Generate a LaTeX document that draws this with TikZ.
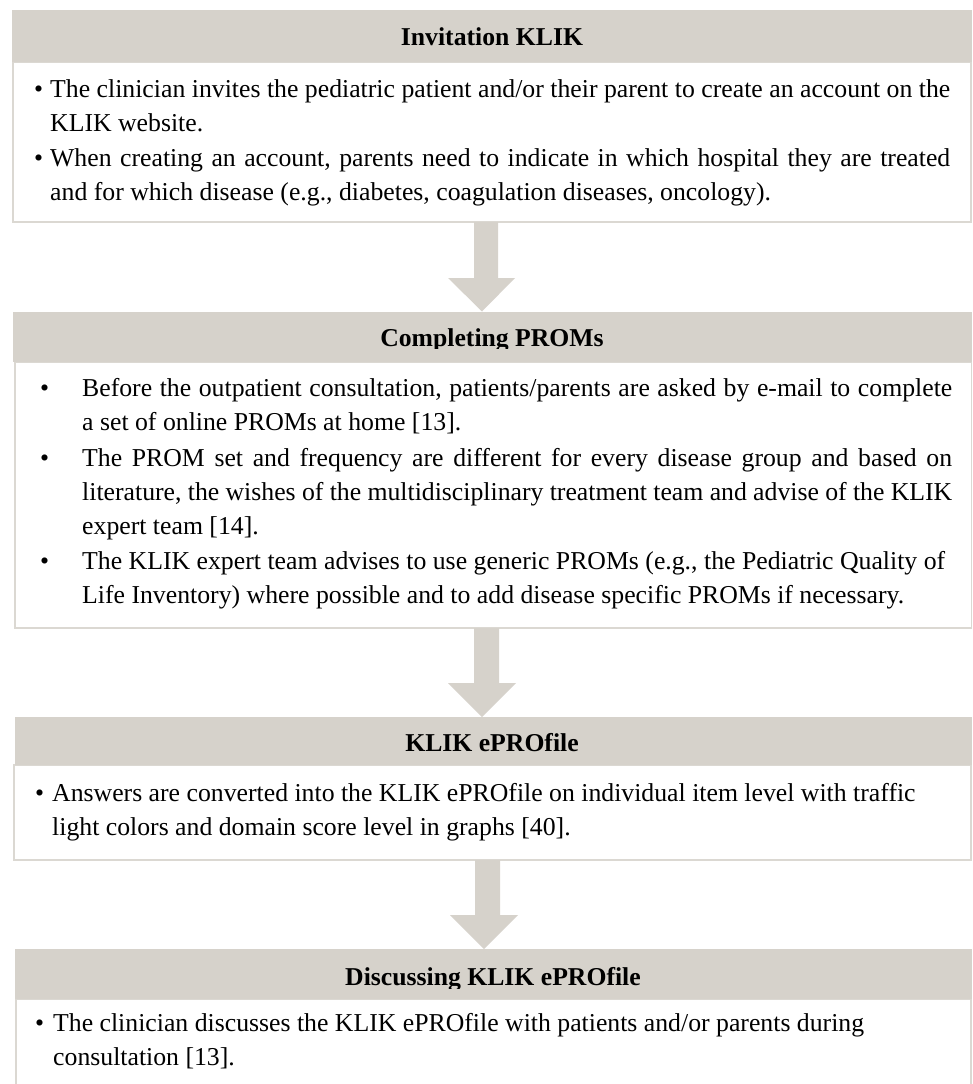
\documentclass[tikz,border=0pt]{standalone}
\usepackage{fontspec}
\setmainfont{Liberation Serif}
\usetikzlibrary{calc}
\definecolor{tanc}{RGB}{214,210,203}
\definecolor{bordc}{RGB}{219,216,210}
\tikzset{
  headbox/.style={rectangle, fill=tanc, draw=none, inner sep=0pt, outer sep=0pt, anchor=north west},
  bodybox/.style={rectangle, fill=white, draw=bordc, line width=1.8pt, inner sep=0pt, outer sep=0pt, anchor=north west},
  headtext/.style={inner sep=0pt, anchor=base, font=\fontsize{25.7}{34}\selectfont\bfseries},
  bodytext/.style={inner sep=0pt, anchor=base west, font=\fontsize{25.75}{34}\selectfont},
  arrowc/.style={fill=tanc, draw=none}
}
\newcommand{\bodysetup}{\hyphenpenalty=10000 \exhyphenpenalty=10000 \tolerance=10000 \emergencystretch=0pt \parskip=1.5pt \parindent=0pt \frenchspacing \spaceskip=0.25em plus 0.2em minus 0.09em \xspaceskip=\spaceskip }
\newcommand{\bul}[1]{\hangindent=#1 \hangafter=1 \noindent\makebox[#1][l]{•}}
\newcommand{\jline}[2]{\makebox[#1][s]{#2}\newline}
\begin{document}
\begin{tikzpicture}[x=1pt,y=-1pt]
\useasboundingbox (0,0) rectangle (972,1084);
\clip (0,0) rectangle (972,1084);
% boxes
\node[bodybox, minimum width=958pt, minimum height=160pt] (b1) at (13,62) {};
\node[headbox, minimum width=960pt, minimum height=52pt] (h1) at (12,10) {};
\node[bodybox, minimum width=956.5pt, minimum height=266.3pt] (b2) at (15,361.7) {};
\node[headbox, minimum width=959pt, minimum height=50.2pt] (h2) at (13,311.5) {};
\node[bodybox, minimum width=957pt, minimum height=95pt] (b3) at (14,765) {};
\node[headbox, minimum width=957pt, minimum height=48pt] (h3) at (15,717) {};
\node[bodybox, minimum width=955pt, minimum height=110pt] (b4) at (16,999) {};
\node[headbox, minimum width=957pt, minimum height=50pt] (h4) at (15,949) {};
% header texts
\node[headtext] (t1) at (492,45.7) {Invitation KLIK};
\begin{scope}
\clip (13,311.5) rectangle (972,348.5);
\node[headtext] (t2) at (492,346.7) {Completing PROMs};
\end{scope}
\node[headtext] (t3) at (492,751.7) {KLIK ePROfile};
\begin{scope}
\clip (15,949) rectangle (972,988);
\node[headtext] (t4) at (493,985) {Discussing KLIK ePROfile};
\end{scope}
% body texts
\node[bodytext, text width=930pt] (x1) at (34,97) {\bodysetup\raggedright
\bul{16pt}\jline{900pt}{The clinician invites the pediatric patient and/or their parent to create an account on the}KLIK website.\par
\bul{16pt}\jline{900pt}{When creating an account, parents need to indicate in which hospital they are treated}and for which disease (e.g., diabetes, coagulation diseases, oncology).\par};
\node[bodytext, text width=925pt] (x2) at (40,396.7) {\bodysetup\raggedright
\bul{42pt}\jline{870pt}{Before the outpatient consultation, patients/parents are asked by e-mail to complete}a set of online PROMs at home [13].\par
\bul{42pt}\jline{870pt}{The PROM set and frequency are different for every disease group and based on}\jline{870pt}{literature, the wishes of the multidisciplinary treatment team and advise of the KLIK}expert team [14].\par
\bul{42pt}\jline{863pt}{The KLIK expert team advises to use generic PROMs (e.g., the Pediatric Quality of}Life Inventory) where possible and to add disease specific PROMs if necessary.\par};
\node[bodytext, text width=930pt] (x3) at (35,801.7) {\bodysetup\raggedright
\bul{17pt}Answers are converted into the KLIK ePROfile on individual item level with traffic\newline light colors and domain score level in graphs [40].\par};
\node[bodytext, text width=930pt] (x4) at (35,1031.7) {\bodysetup\raggedright
\bul{18pt}The clinician discusses the KLIK ePROfile with patients and/or parents during\newline consultation [13].\par};
% block arrows
\fill[arrowc] ([xshift=-18pt]b1.south) -- ([xshift=6pt]b1.south) -- ([xshift=6pt,yshift=-56pt]b1.south)
  -- ([xshift=23pt,yshift=-56pt]b1.south) -- ([xshift=-10.5pt]h2.north)
  -- ([xshift=-44pt,yshift=-56pt]b1.south) -- ([xshift=-18pt,yshift=-56pt]b1.south) -- cycle;
\fill[arrowc] ([xshift=-19.25pt]b2.south) -- ([xshift=5.75pt]b2.south) -- ([xshift=5.75pt,yshift=-55pt]b2.south)
  -- ([xshift=22.75pt,yshift=-55pt]b2.south) -- ([xshift=-11.5pt]h3.north)
  -- ([xshift=-45.25pt,yshift=-55pt]b2.south) -- ([xshift=-19.25pt,yshift=-55pt]b2.south) -- cycle;
\fill[arrowc] ([xshift=-17.5pt]b3.south) -- ([xshift=7.5pt]b3.south) -- ([xshift=7.5pt,yshift=-55pt]b3.south)
  -- ([xshift=25.5pt,yshift=-55pt]b3.south) -- ([xshift=-9.5pt]h4.north)
  -- ([xshift=-42.5pt,yshift=-55pt]b3.south) -- ([xshift=-17.5pt,yshift=-55pt]b3.south) -- cycle;
\end{tikzpicture}
\end{document}
